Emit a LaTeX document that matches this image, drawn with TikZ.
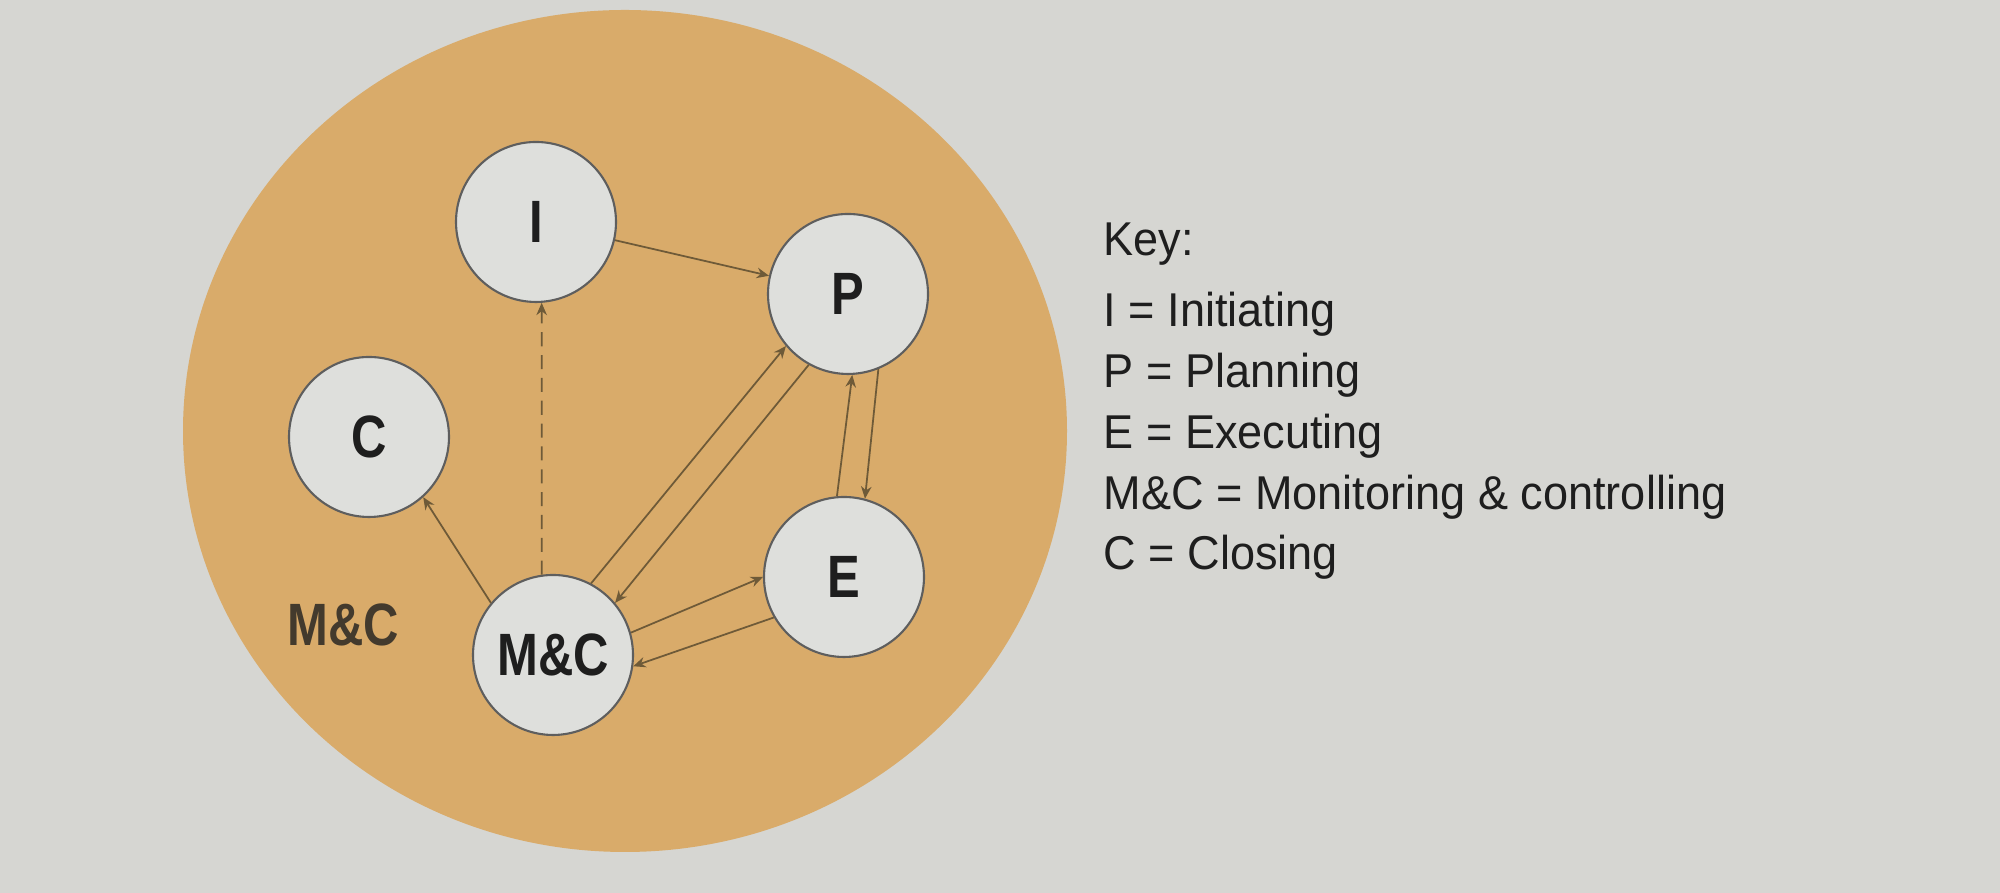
\documentclass[tikz,border=0pt]{standalone}
\usepackage{fontspec}
\setmainfont{Liberation Sans}[FakeStretch=0.95]
\newfontfamily\phasefont{Liberation Sans}[FakeStretch=0.82]
\usetikzlibrary{arrows.meta}
\definecolor{paper}{HTML}{D6D6D2}
\definecolor{ochre}{HTML}{D9AB6A}
\definecolor{disc}{HTML}{DEDFDC}
\definecolor{rim}{HTML}{5E5E5E}
\definecolor{link}{HTML}{6E5A38}
\definecolor{ink}{HTML}{1E1E1E}

\begin{document}
\begin{tikzpicture}[
    phase/.style={circle, draw=rim, line width=0.6pt, fill=disc, minimum size=1.6cm,
      inner sep=0pt, text=ink, font=\phasefont\bfseries\fontsize{17}{20}\selectfont},
    flow/.style={draw=link, line width=0.5pt, -{Stealth[length=3.5pt,width=3pt]}},
    keyline/.style={anchor=base west, inner sep=0pt, text=ink, font=\fontsize{13.5}{16}\selectfont}
  ]
  \fill[paper] (0,0) rectangle (20,8.93);
  \fill[ochre] (6.25,4.62) ellipse [x radius=4.42cm, y radius=4.21cm];

  % process groups
  \node[phase] (I) at (5.36,6.71) {I};
  \node[phase] (P) at (8.48,5.99) {P};
  \node[phase] (E) at (8.44,3.16) {E};
  \node[phase] (MC) at (5.53,2.38) {M\&C};
  \node[phase] (C) at (3.69,4.56) {C};
  \node[text=ink!80!ochre, font=\phasefont\bfseries\fontsize{17}{20}\selectfont] (mclabel) at (3.43,2.68) {M\&C};

  \draw[flow] (I) -- (P);
  \draw[flow, dash pattern=on 4pt off 2.5pt] (MC.98) -- (I.274);
  \draw[flow] (MC.140) -- (C.312);
  \draw[flow] (MC.62) -- (P.220);
  \draw[flow] (P.241) -- (MC.40);
  \draw[flow] (E.95) -- (P.273);
  \draw[flow] (P.292) -- (E.75);
  \draw[flow] (MC.16) -- (E.180);
  \draw[flow] (E.210) -- (MC.-8);

  % key
  \foreach \n/\y/\t in {0/6.37/Key:, 1/5.66/I = Initiating, 2/5.05/P = Planning,
      3/4.44/E = Executing, 4/3.83/M\&C = Monitoring \& controlling, 5/3.23/C = Closing} {
    \node[keyline] (key\n) at (11.03,\y) {\t};
  }
\end{tikzpicture}
\end{document}
